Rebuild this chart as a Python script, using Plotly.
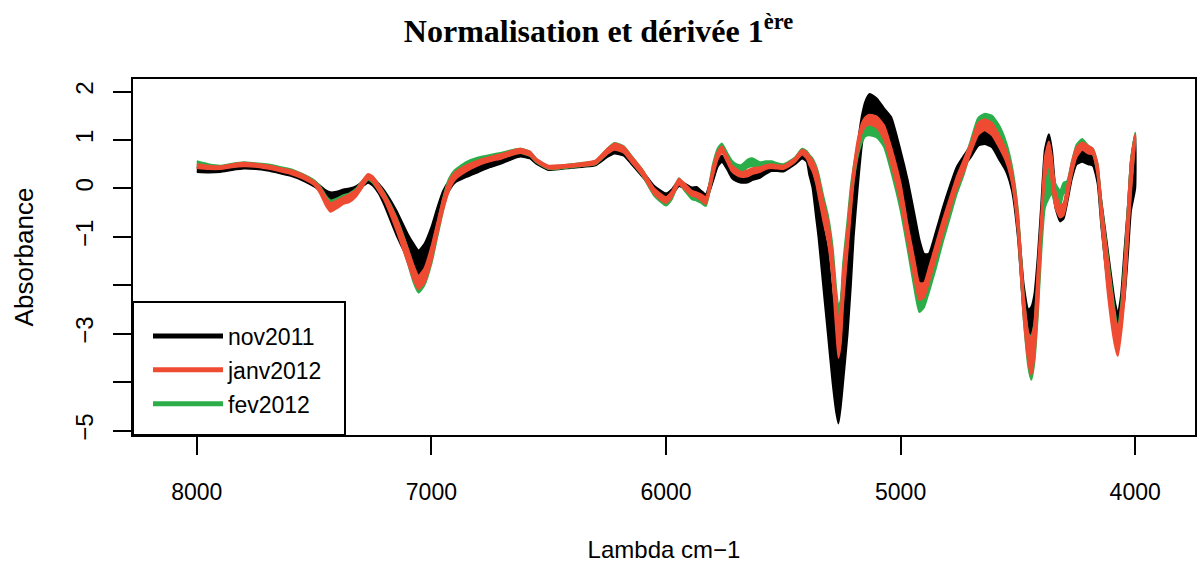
import plotly.graph_objects as go

# Wavenumber grid (cm-1)
wavenumber = [8000, 7950, 7900, 7850, 7800, 7750, 7700, 7650, 7600, 7550, 7500, 7475, 7450, 7430, 7400, 7375, 7350, 7320, 7300, 7270, 7250, 7225, 7200, 7150, 7100, 7075, 7055, 7030, 7000, 6975, 6950, 6925, 6900, 6850, 6800, 6750, 6700, 6650, 6620, 6580, 6550, 6500, 6450, 6400, 6350, 6300, 6250, 6220, 6180, 6150, 6100, 6050, 6000, 5975, 5945, 5920, 5890, 5870, 5850, 5830, 5800, 5780, 5762, 5740, 5720, 5700, 5680, 5650, 5630, 5600, 5575, 5550, 5525, 5500, 5475, 5450, 5420, 5400, 5390, 5375, 5360, 5350, 5330, 5310, 5290, 5275, 5265, 5255, 5245, 5226, 5212, 5200, 5183, 5165, 5150, 5132, 5100, 5070, 5040, 5000, 4970, 4940, 4920, 4900, 4880, 4850, 4820, 4790, 4760, 4730, 4700, 4670, 4642, 4610, 4580, 4550, 4525, 4500, 4475, 4455, 4443, 4430, 4415, 4400, 4385, 4368, 4355, 4340, 4320, 4305, 4290, 4270, 4250, 4226, 4200, 4180, 4160, 4144, 4116, 4088, 4074, 4060, 4046, 4030, 4018, 4000]

# nov2011 envelope (lower / upper)
nov_lo = [0.34, 0.33, 0.34, 0.38, 0.41, 0.40, 0.37, 0.32, 0.26, 0.17, 0.04, -0.05, -0.18, -0.22, -0.20, -0.14, -0.12, -0.06, 0.02, 0.12, 0.06, -0.10, -0.35, -0.95, -1.45, -1.65, -1.78, -1.65, -1.25, -0.80, -0.35, -0.05, 0.12, 0.24, 0.34, 0.44, 0.52, 0.62, 0.66, 0.62, 0.50, 0.38, 0.40, 0.43, 0.45, 0.48, 0.65, 0.72, 0.68, 0.52, 0.24, -0.05, -0.24, -0.15, 0.05, 0.00, -0.06, -0.05, -0.15, -0.26, 0.15, 0.45, 0.55, 0.40, 0.22, 0.15, 0.12, 0.13, 0.18, 0.22, 0.30, 0.36, 0.36, 0.35, 0.42, 0.50, 0.62, 0.55, 0.30, 0.00, -0.60, -1.00, -2.00, -3.00, -4.00, -4.60, -4.85, -4.50, -4.00, -3.00, -2.00, -1.00, 0.00, 0.90, 1.35, 1.55, 1.52, 1.30, 0.80, 0.10, -0.85, -1.48, -1.90, -1.98, -1.75, -1.25, -0.70, -0.25, 0.15, 0.45, 0.65, 0.88, 0.92, 0.85, 0.60, 0.35, -0.05, -1.00, -2.60, -3.20, -3.25, -2.90, -2.20, -0.90, 0.30, 0.55, 0.20, -0.40, -0.68, -0.62, -0.30, 0.20, 0.50, 0.55, 0.50, 0.47, 0.10, -0.80, -2.05, -3.00, -3.05, -2.70, -2.30, -1.30, -0.46, 0.00]
nov_hi = [0.44, 0.41, 0.41, 0.46, 0.49, 0.48, 0.45, 0.40, 0.35, 0.26, 0.14, 0.06, -0.04, -0.08, -0.06, -0.02, 0.00, 0.05, 0.12, 0.26, 0.22, 0.10, -0.05, -0.45, -0.95, -1.15, -1.28, -1.15, -0.80, -0.40, -0.05, 0.15, 0.28, 0.40, 0.50, 0.58, 0.64, 0.74, 0.77, 0.72, 0.58, 0.45, 0.46, 0.49, 0.51, 0.55, 0.76, 0.86, 0.80, 0.64, 0.36, 0.05, -0.10, -0.02, 0.17, 0.10, 0.02, 0.03, -0.05, -0.12, 0.35, 0.60, 0.68, 0.52, 0.38, 0.32, 0.24, 0.24, 0.28, 0.32, 0.40, 0.45, 0.44, 0.43, 0.50, 0.60, 0.74, 0.70, 0.62, 0.45, 0.16, -0.20, -0.80, -1.30, -2.30, -2.60, -2.70, -2.40, -1.80, -1.10, -0.30, 0.20, 0.90, 1.50, 1.80, 1.95, 1.85, 1.65, 1.47, 0.78, 0.18, -0.55, -1.05, -1.35, -1.35, -0.90, -0.40, 0.05, 0.45, 0.68, 0.90, 1.15, 1.20, 1.10, 0.85, 0.60, 0.20, -0.60, -2.00, -2.50, -2.45, -2.20, -1.40, -0.30, 0.80, 1.12, 0.80, 0.00, -0.40, -0.35, 0.00, 0.50, 0.75, 0.85, 0.78, 0.78, 0.40, -0.26, -1.30, -2.30, -2.60, -2.20, -1.30, -0.30, 0.57, 1.12]

# janv2012 envelope
jan_lo = [0.42, 0.40, 0.40, 0.44, 0.46, 0.45, 0.41, 0.36, 0.30, 0.21, 0.07, -0.10, -0.35, -0.48, -0.40, -0.32, -0.28, -0.16, -0.02, 0.20, 0.14, -0.05, -0.25, -0.85, -1.55, -1.90, -2.08, -1.95, -1.50, -0.95, -0.45, -0.05, 0.18, 0.36, 0.48, 0.56, 0.62, 0.70, 0.73, 0.68, 0.54, 0.41, 0.42, 0.45, 0.47, 0.51, 0.72, 0.80, 0.74, 0.56, 0.27, -0.12, -0.30, -0.18, 0.08, -0.02, -0.15, -0.18, -0.25, -0.32, 0.25, 0.60, 0.75, 0.55, 0.36, 0.28, 0.24, 0.25, 0.30, 0.34, 0.40, 0.42, 0.41, 0.40, 0.46, 0.55, 0.70, 0.62, 0.50, 0.35, 0.10, -0.15, -0.65, -1.10, -1.90, -2.90, -3.50, -3.20, -2.40, -1.30, -0.50, 0.15, 0.75, 1.15, 1.28, 1.32, 1.25, 1.00, 0.50, -0.30, -1.10, -1.90, -2.30, -2.25, -1.95, -1.45, -0.95, -0.45, 0.00, 0.35, 0.75, 1.10, 1.20, 1.10, 0.85, 0.55, 0.10, -0.90, -2.70, -3.60, -3.85, -3.50, -2.50, -1.00, 0.20, 0.50, 0.10, -0.40, -0.60, -0.55, -0.25, 0.30, 0.65, 0.80, 0.72, 0.70, 0.25, -0.70, -2.20, -3.20, -3.46, -3.00, -2.30, -1.00, -0.10, 1.00]
jan_hi = [0.50, 0.47, 0.46, 0.50, 0.53, 0.51, 0.48, 0.43, 0.38, 0.29, 0.15, 0.03, -0.18, -0.30, -0.24, -0.18, -0.12, -0.02, 0.12, 0.30, 0.25, 0.08, -0.12, -0.60, -1.25, -1.60, -1.80, -1.65, -1.20, -0.70, -0.22, 0.15, 0.33, 0.48, 0.58, 0.65, 0.71, 0.79, 0.82, 0.76, 0.60, 0.47, 0.48, 0.50, 0.53, 0.58, 0.82, 0.93, 0.86, 0.68, 0.38, 0.00, -0.18, -0.06, 0.20, 0.10, -0.05, -0.08, -0.12, -0.18, 0.45, 0.76, 0.87, 0.68, 0.48, 0.40, 0.34, 0.38, 0.42, 0.44, 0.48, 0.50, 0.48, 0.47, 0.54, 0.63, 0.80, 0.75, 0.68, 0.58, 0.42, 0.25, -0.25, -0.65, -1.35, -2.20, -2.75, -2.50, -1.70, -0.80, -0.05, 0.45, 1.00, 1.35, 1.47, 1.52, 1.48, 1.30, 0.85, 0.10, -0.75, -1.50, -1.95, -1.95, -1.65, -1.15, -0.65, -0.20, 0.25, 0.60, 0.95, 1.35, 1.43, 1.35, 1.10, 0.80, 0.35, -0.50, -2.20, -3.00, -3.10, -2.80, -1.60, -0.50, 0.65, 0.97, 0.65, -0.05, -0.35, -0.30, 0.05, 0.55, 0.85, 0.95, 0.88, 0.82, 0.50, -0.30, -1.50, -2.60, -2.94, -2.50, -1.60, -0.30, 0.57, 1.12]

# fev2012 envelope
fev_lo = [0.44, 0.42, 0.41, 0.45, 0.47, 0.46, 0.43, 0.38, 0.32, 0.22, 0.09, -0.05, -0.30, -0.42, -0.36, -0.28, -0.24, -0.12, 0.00, 0.18, 0.12, -0.04, -0.22, -0.80, -1.55, -1.95, -2.15, -2.00, -1.55, -1.00, -0.45, 0.00, 0.22, 0.42, 0.54, 0.60, 0.65, 0.71, 0.73, 0.67, 0.53, 0.40, 0.41, 0.44, 0.47, 0.50, 0.72, 0.82, 0.75, 0.57, 0.26, -0.15, -0.35, -0.22, 0.10, -0.05, -0.22, -0.25, -0.30, -0.36, 0.30, 0.66, 0.80, 0.62, 0.44, 0.38, 0.34, 0.44, 0.46, 0.43, 0.46, 0.47, 0.44, 0.42, 0.47, 0.55, 0.72, 0.64, 0.55, 0.40, 0.15, -0.08, -0.55, -1.00, -1.75, -2.70, -3.35, -3.05, -2.20, -1.10, -0.35, 0.15, 0.65, 0.95, 1.08, 1.10, 1.05, 0.85, 0.35, -0.45, -1.25, -2.10, -2.55, -2.45, -2.15, -1.65, -1.10, -0.60, -0.10, 0.30, 0.80, 1.20, 1.25, 1.20, 0.95, 0.65, 0.15, -0.85, -2.70, -3.70, -3.95, -3.60, -2.60, -1.30, -0.40, -0.20, -0.10, -0.35, -0.35, -0.10, -0.10, 0.30, 0.70, 0.85, 0.75, 0.70, 0.30, -0.70, -2.10, -3.10, -3.35, -2.90, -2.20, -0.90, 0.00, 1.00]
fev_hi = [0.56, 0.50, 0.47, 0.51, 0.54, 0.52, 0.50, 0.45, 0.40, 0.30, 0.17, 0.05, -0.15, -0.25, -0.20, -0.14, -0.10, 0.00, 0.12, 0.28, 0.24, 0.08, -0.10, -0.58, -1.25, -1.65, -1.85, -1.70, -1.25, -0.75, -0.20, 0.20, 0.38, 0.55, 0.64, 0.69, 0.74, 0.80, 0.82, 0.76, 0.60, 0.46, 0.47, 0.50, 0.53, 0.57, 0.82, 0.94, 0.87, 0.69, 0.38, -0.02, -0.22, -0.10, 0.21, 0.06, -0.10, -0.12, -0.16, -0.22, 0.50, 0.82, 0.93, 0.74, 0.58, 0.50, 0.48, 0.60, 0.62, 0.54, 0.56, 0.56, 0.52, 0.50, 0.56, 0.64, 0.82, 0.77, 0.70, 0.62, 0.46, 0.30, -0.15, -0.55, -1.20, -2.05, -2.45, -2.30, -1.55, -0.65, 0.05, 0.45, 0.90, 1.18, 1.30, 1.33, 1.28, 1.10, 0.65, -0.10, -0.90, -1.70, -2.20, -2.15, -1.85, -1.35, -0.85, -0.35, 0.15, 0.55, 1.00, 1.45, 1.54, 1.50, 1.30, 0.95, 0.45, -0.45, -2.20, -3.00, -3.05, -2.80, -1.80, -0.80, 0.20, 0.55, 0.45, 0.10, -0.05, 0.12, 0.15, 0.55, 0.90, 1.02, 0.88, 0.82, 0.50, -0.30, -1.40, -2.50, -2.90, -2.40, -1.50, -0.30, 0.60, 1.15]

# Axis ticks
x_ticks = [8000, 7000, 6000, 5000, 4000]
y_label_ticks = [2, 1, 0, -1, -3, -5]
y_label_text = ["2", "1", "0", "−1", "−3", "−5"]
y_minor_ticks = [-2, -4]

series = [
    ("nov2011", nov_lo, nov_hi, "#000000"),
    ("fev2012", fev_lo, fev_hi, "#2BAE4A"),
    ("janv2012", jan_lo, jan_hi, "#EF4B33"),
]
legend_order = [("nov2011", "#000000"), ("janv2012", "#EF4B33"), ("fev2012", "#2BAE4A")]

fig = go.Figure()
for name, lo, hi, col in series:
    xs = wavenumber + wavenumber[::-1]
    ys = lo + hi[::-1]
    fig.add_trace(go.Scatter(
        x=xs, y=ys, mode="lines", fill="toself", fillcolor=col,
        line=dict(color=col, width=2, shape="spline", smoothing=0.5),
        name=name, showlegend=False, hoverinfo="skip"))

for i, (name, col) in enumerate(legend_order):
    fig.add_trace(go.Scatter(
        x=[None], y=[None], mode="lines", name=name,
        line=dict(color=col, width=5), legendgroup=name, legendrank=i + 1))

# legend frame (R-style box in the bottom-left corner)
fig.add_shape(type="rect", xref="paper", yref="paper",
              x0=0, x1=212 / 1062, y0=0, y1=133 / 356,
              line=dict(color="black", width=2), fillcolor="white", layer="above")

fig.update_layout(
    width=1197, height=569,
    paper_bgcolor="white", plot_bgcolor="white",
    margin=dict(l=133, r=2, t=79, b=134, autoexpand=False),
    font=dict(family="Liberation Sans, Arial, sans-serif", size=24, color="black"),
    title=dict(
        text="<b>Normalisation et dérivée 1<sup>ère</sup></b>",
        font=dict(family="Liberation Serif, Times New Roman, serif", size=32, color="black"),
        x=0.5, xref="container", xanchor="center",
        y=1 - 31 / 569, yref="container", yanchor="middle"),
    legend=dict(
        x=15 / 1062, y=65 / 356, xanchor="left", yanchor="middle",
        bgcolor="rgba(0,0,0,0)", borderwidth=0,
        font=dict(size=23), tracegroupgap=1, traceorder="grouped",
        itemwidth=70),
    showlegend=True,
)
fig.update_xaxes(
    range=[8272, 3745], tickvals=x_ticks,
    ticktext=[str(v) for v in x_ticks],
    ticks="outside", ticklen=18, tickwidth=2, tickcolor="black",
    showline=True, linewidth=2, linecolor="black", mirror=True,
    showgrid=False, zeroline=False, ticklabelstandoff=17,
    tickfont=dict(size=23), automargin=False,
    title=dict(text="Lambda cm−1", standoff=38, font=dict(size=24)))
fig.update_yaxes(
    range=[-5.09, 2.26], tickvals=y_label_ticks, ticktext=y_label_text,
    tickangle=-90,
    ticks="outside", ticklen=18, tickwidth=2, tickcolor="black",
    minor=dict(tickvals=y_minor_ticks, ticks="outside", ticklen=18,
               tickwidth=2, tickcolor="black", showgrid=False),
    showline=True, linewidth=2, linecolor="black", mirror=True,
    showgrid=False, zeroline=False, ticklabelstandoff=10,
    tickfont=dict(size=24), automargin=False,
    title=dict(text="Absorbance", standoff=30, font=dict(size=26)))

fig.write_html("out.html", config={"displayModeBar": False},
               post_script="document.body.style.margin='0';")
